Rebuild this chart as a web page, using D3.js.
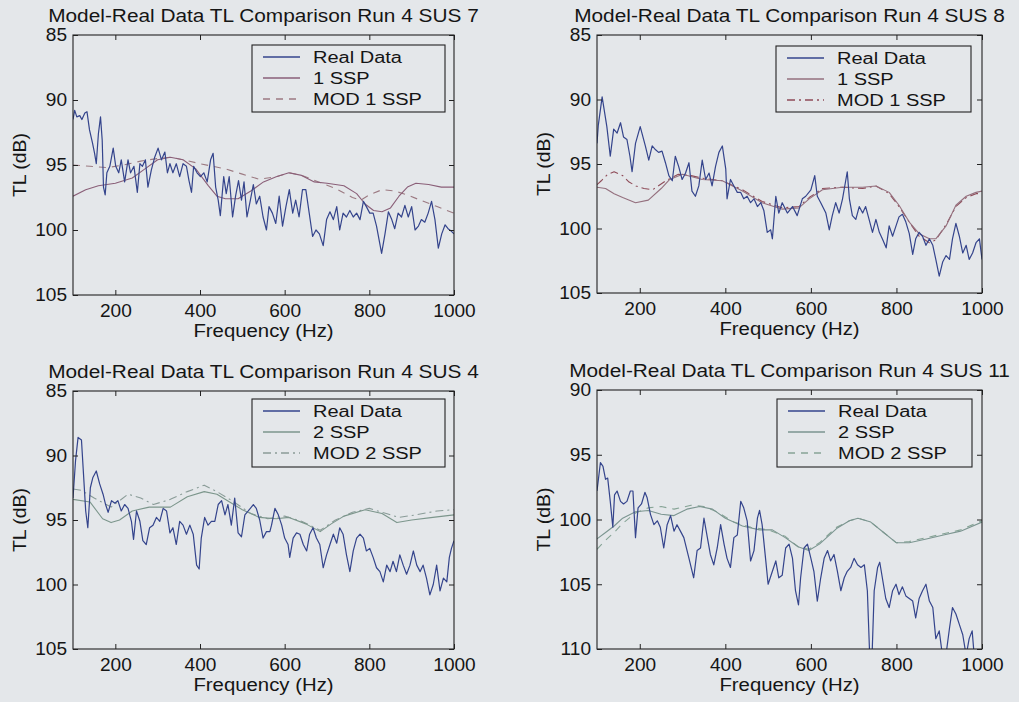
<!DOCTYPE html>
<html>
<head>
<meta charset="utf-8">
<script src="https://cdn.jsdelivr.net/npm/d3@7"></script>
<style>
  html, body { margin: 0; padding: 0; background: #e4e7ea; }
  svg { display: block; }
  text { font-family: "Liberation Sans", Arial, sans-serif; fill: #151515; }
</style>
</head>
<body>
<svg id="chart" width="1019" height="702"></svg>
<script>
// tick values
const freqTicks = [200, 400, 600, 800, 1000]
const tlTicksA = [85, 90, 95, 100, 105]
const tlTicksB = [90, 95, 100, 105, 110]

// Run 4 SUS 7  [frequency Hz, TL dB]
const sus7Real = [[100,91.5],[104,90.8],[109,91.3],[116,91.2],[121,91.5],[128,91.0],[133,90.9],[139,92.3],[146,93.3],[151,94.1],[155,94.9],[160,92.6],[165,91.3],[169,93.1],[172,96.7],[176,97.3],[180,95.6],[187,95.1],[195,93.7],[201,95.1],[208,95.6],[214,94.6],[222,96.3],[230,94.6],[236,95.6],[244,95.1],[252,97.1],[258,94.9],[264,95.1],[271,94.6],[277,96.7],[285,95.4],[293,94.4],[301,93.7],[309,94.6],[317,94.0],[323,95.6],[329,94.9],[336,95.6],[344,94.9],[352,95.9],[360,94.9],[368,95.1],[374,96.2],[380,97.1],[385,95.1],[393,95.6],[401,95.9],[409,95.6],[417,96.3],[425,94.6],[431,94.1],[437,96.7],[443,97.7],[448,98.9],[456,95.9],[462,97.2],[469,95.9],[477,99.0],[484,97.4],[491,96.2],[498,97.7],[504,96.3],[511,99.0],[519,97.7],[526,96.5],[533,98.0],[541,97.4],[549,99.0],[557,100.0],[563,98.2],[571,98.7],[579,99.5],[587,97.4],[595,99.7],[603,98.2],[611,96.9],[619,98.7],[626,97.7],[634,99.0],[642,96.9],[650,96.9],[658,98.7],[666,100.5],[674,100.0],[682,100.3],[691,101.2],[699,99.2],[707,98.6],[715,99.2],[723,98.2],[730,100.0],[738,98.7],[746,99.0],[754,98.5],[762,99.0],[770,98.7],[778,99.2],[786,97.8],[793,98.2],[801,98.7],[809,98.7],[817,99.7],[829,101.8],[837,100.3],[845,98.6],[853,99.2],[860,99.9],[868,98.7],[876,99.0],[884,98.1],[892,99.0],[900,98.2],[908,100.0],[916,99.7],[923,99.2],[931,99.4],[939,98.7],[947,97.8],[955,99.2],[963,101.4],[971,100.3],[979,99.6],[986,99.9],[994,100.1],[1000,100.3]]
const sus7Ssp = [[100,97.4],[130,96.9],[160,96.6],[200,96.4],[240,96.0],[270,95.3],[300,94.6],[330,94.4],[360,94.6],[390,95.3],[420,96.6],[440,97.4],[460,97.6],[490,97.6],[520,97.0],[550,96.3],[580,95.9],[610,95.6],[640,95.8],[670,96.3],[700,96.4],[740,96.6],[770,97.2],[790,98.0],[810,98.5],[830,98.6],[850,98.3],[870,97.4],[890,96.7],[910,96.4],[940,96.5],[970,96.7],[1000,96.7]]
const sus7Mod = [[100,95.0],[140,95.1],[180,95.2],[220,95.0],[260,94.7],[300,94.5],[330,94.4],[360,94.6],[400,94.9],[430,95.1],[460,95.3],[500,95.7],[540,96.1],[580,95.9],[610,95.6],[640,95.8],[680,96.3],[720,96.8],[760,97.5],[780,97.7],[800,97.3],[830,96.9],[860,97.0],[890,97.3],[920,97.7],[960,98.2],[1000,98.7]]

// Run 4 SUS 8
const sus8Real = [[100,93.4],[103,92.0],[112,89.8],[123,92.1],[131,94.4],[139,92.3],[147,92.6],[155,91.8],[162,92.9],[170,93.1],[177,94.4],[182,95.6],[190,93.4],[201,92.1],[213,93.6],[221,94.7],[229,93.6],[237,93.9],[244,94.1],[252,94.0],[260,94.9],[268,95.9],[276,96.3],[283,94.4],[291,95.2],[299,96.2],[307,95.7],[315,94.9],[322,97.1],[330,97.5],[338,96.7],[346,94.7],[354,96.2],[362,95.7],[369,96.7],[377,95.2],[385,94.1],[393,93.6],[401,95.4],[404,97.7],[412,96.2],[420,96.7],[428,97.2],[436,97.2],[443,97.7],[451,97.5],[459,98.0],[467,97.7],[475,98.3],[483,98.0],[490,98.6],[498,100.3],[506,100.1],[510,100.8],[518,97.5],[525,98.8],[533,98.0],[545,98.8],[557,98.3],[568,99.0],[580,97.7],[588,97.5],[600,97.0],[609,95.9],[615,97.5],[623,98.0],[635,98.8],[643,100.1],[650,99.0],[658,98.0],[666,98.8],[674,97.7],[685,95.6],[690,97.7],[697,99.0],[705,99.3],[713,98.3],[721,98.8],[728,98.3],[736,99.3],[744,100.3],[752,99.3],[760,100.3],[767,100.8],[776,101.5],[783,99.8],[791,100.6],[799,99.8],[806,99.1],[814,98.9],[822,99.5],[830,100.4],[838,102.0],[845,100.8],[853,100.3],[861,100.6],[869,101.3],[877,100.8],[885,101.3],[892,102.4],[900,103.7],[908,102.6],[916,102.1],[924,102.4],[931,100.8],[939,99.6],[947,100.6],[955,101.9],[963,101.3],[970,102.4],[978,101.9],[986,101.1],[994,100.8],[1000,102.4]]
const sus8Ssp = [[100,96.8],[120,96.9],[140,97.3],[160,97.6],[190,98.0],[220,97.8],[250,96.9],[270,96.2],[300,95.8],[346,96.2],[393,96.3],[440,97.1],[486,98.0],[533,98.5],[572,98.4],[596,97.7],[627,97.0],[674,96.8],[721,96.8],[752,96.7],[783,97.2],[806,98.2],[830,99.5],[853,100.4],[877,100.8],[892,100.8],[916,99.8],[939,98.2],[963,97.5],[986,97.2],[1000,97.1]]
const sus8Mod = [[100,96.6],[110,96.3],[125,95.8],[140,95.6],[160,95.9],[175,96.4],[191,96.7],[210,96.9],[230,97.0],[261,96.3],[290,95.8],[320,95.9],[346,96.1],[393,96.3],[440,97.0],[486,97.9],[533,98.4],[572,98.3],[596,97.6],[627,96.9],[674,96.8],[721,96.9],[752,96.7],[783,97.3],[806,98.3],[830,99.5],[853,100.6],[877,101.1],[892,100.9],[916,99.7],[939,98.3],[963,97.6],[986,97.3],[1000,97.3]]

// Run 4 SUS 4
const sus4Real = [[100,93.3],[106,90.4],[112,88.6],[120,88.8],[124,91.0],[130,94.3],[135,95.6],[141,92.5],[147,91.7],[155,91.2],[163,92.2],[171,93.0],[177,93.8],[183,94.4],[191,93.5],[199,93.7],[206,93.5],[214,94.3],[222,93.8],[230,94.1],[238,95.1],[243,96.5],[250,94.3],[258,95.1],[265,96.6],[273,96.9],[281,95.6],[289,95.4],[297,94.8],[305,95.1],[313,94.1],[321,94.3],[329,96.0],[336,95.6],[344,96.9],[352,95.1],[360,95.4],[368,96.1],[376,95.4],[384,96.1],[392,98.5],[398,98.8],[403,96.4],[411,94.8],[419,95.4],[427,95.1],[435,95.1],[443,93.8],[451,93.5],[459,94.6],[466,93.8],[474,95.4],[482,93.3],[490,96.0],[498,96.3],[506,94.6],[514,94.3],[526,93.8],[533,94.1],[541,95.0],[549,96.4],[557,95.9],[565,95.9],[569,95.4],[577,94.1],[585,94.6],[593,95.4],[600,96.4],[608,96.9],[612,97.9],[620,96.4],[628,96.0],[636,96.1],[644,96.9],[652,97.4],[659,96.1],[667,95.6],[675,96.4],[683,96.9],[691,98.7],[699,97.7],[707,96.9],[715,96.1],[723,96.8],[730,95.6],[738,96.1],[746,97.7],[754,99.0],[762,97.4],[770,96.4],[778,96.1],[786,96.4],[793,97.4],[801,97.2],[809,97.9],[817,98.7],[825,99.0],[833,99.8],[841,98.5],[849,99.0],[856,98.2],[864,99.0],[872,97.7],[880,98.5],[888,99.2],[896,98.5],[904,97.4],[912,98.5],[920,99.0],[927,98.5],[935,99.5],[943,100.8],[951,100.0],[959,98.5],[967,100.5],[975,99.5],[983,99.8],[989,97.9],[994,97.2],[1000,96.6]]
const sus4Ssp = [[100,93.4],[140,93.6],[170,94.9],[190,95.2],[210,95.0],[240,94.3],[280,94.0],[330,94.0],[370,93.2],[410,92.8],[440,93.0],[470,93.6],[500,94.2],[540,94.8],[580,94.9],[610,94.8],[650,95.3],[684,95.9],[710,95.3],[740,94.7],[790,94.2],[830,94.5],[865,95.2],[900,95.0],[950,94.8],[1000,94.6]]
const sus4Mod = [[100,92.6],[120,92.7],[150,93.3],[190,94.0],[230,93.0],[260,93.3],[290,93.8],[330,93.4],[370,92.8],[410,92.3],[440,92.8],[480,93.6],[520,94.5],[560,94.9],[600,94.7],[640,95.1],[684,95.8],[720,95.0],[760,94.4],[800,94.1],[840,94.5],[870,94.8],[910,94.6],[960,94.3],[1000,94.2]]

// Run 4 SUS 11
const sus11Real = [[100,97.8],[108,95.6],[114,95.9],[120,96.9],[125,96.8],[131,98.6],[137,100.6],[141,98.1],[147,97.8],[155,98.6],[162,98.8],[170,98.6],[178,97.8],[184,97.8],[190,101.4],[196,99.1],[204,98.8],[212,97.9],[217,98.3],[225,99.6],[233,100.4],[241,100.1],[248,100.6],[256,102.2],[264,100.4],[272,99.7],[280,100.9],[287,100.4],[295,100.9],[303,101.4],[315,103.0],[326,104.5],[334,102.4],[342,102.2],[350,99.9],[358,101.4],[365,102.7],[373,103.5],[381,102.2],[389,100.4],[397,101.9],[404,103.0],[412,103.7],[420,101.4],[428,101.2],[436,98.6],[443,99.1],[451,100.1],[459,103.2],[467,102.4],[475,99.9],[480,99.3],[486,100.4],[494,103.0],[500,105.0],[510,104.0],[518,103.2],[525,104.5],[533,104.3],[541,102.2],[549,101.9],[557,103.0],[564,105.5],[571,106.6],[576,104.5],[584,102.2],[592,101.9],[600,103.0],[607,104.0],[615,106.3],[623,104.5],[631,103.0],[639,102.4],[646,103.2],[654,102.7],[662,104.0],[670,105.5],[678,104.5],[685,104.0],[693,103.7],[701,103.0],[709,103.5],[717,103.7],[725,103.5],[732,105.5],[738,111.0],[742,111.5],[748,105.5],[756,103.7],[761,103.3],[767,104.5],[775,106.1],[783,106.8],[791,105.5],[799,105.0],[806,105.8],[814,105.2],[822,105.9],[830,106.1],[838,106.3],[845,107.6],[853,106.1],[861,105.5],[869,105.0],[877,106.3],[885,106.8],[892,109.2],[900,108.6],[908,110.6],[916,110.4],[924,108.4],[931,106.8],[939,107.3],[947,108.1],[955,108.9],[963,110.5],[970,109.2],[977,108.6],[982,110.6],[990,110.8],[1000,110.5]]
const sus11Ssp = [[100,101.5],[120,101.0],[140,100.5],[160,99.9],[190,99.4],[220,99.3],[250,99.6],[280,99.7],[310,99.2],[340,99.0],[370,99.2],[400,99.9],[440,100.5],[480,100.8],[510,100.8],[540,101.4],[570,102.1],[595,102.4],[620,101.9],[660,100.7],[690,100.1],[710,99.9],[740,100.2],[770,101.0],[800,101.8],[830,101.8],[870,101.5],[910,101.2],[950,100.9],[1000,100.2]]
const sus11Mod = [[100,102.3],[120,101.6],[140,101.0],[160,100.3],[190,99.5],[220,99.1],[250,99.0],[280,99.2],[320,98.9],[350,99.0],[380,99.4],[420,100.2],[460,100.6],[500,100.8],[540,101.3],[570,102.1],[595,102.3],[620,101.8],[660,100.6],[690,100.1],[710,99.9],[740,100.2],[770,101.0],[800,101.8],[830,101.7],[870,101.4],[910,101.1],[950,100.8],[1000,100.1]]

const BG = '#e4e7ea'
const REAL = '#34448c'

const panels = [
  { title: 'Model-Real Data TL Comparison Run 4 SUS 7', left: 73, top: 35, right: 454, bottom: 295, yTicks: tlTicksA,
    legend: { x: 252, y: 45, w: 193, h: 67 },
    series: [
      { name: 'Real Data', data: sus7Real, color: REAL, width: 1.2, dash: null },
      { name: '1 SSP', data: sus7Ssp, color: '#8a5f78', width: 1.1, dash: null },
      { name: 'MOD 1 SSP', data: sus7Mod, color: '#9c7a82', width: 1.1, dash: '7,6' }
    ] },
  { title: 'Model-Real Data TL Comparison Run 4 SUS 8', left: 597, top: 35, right: 982, bottom: 293, yTicks: tlTicksA,
    legend: { x: 776, y: 46, w: 195, h: 66 },
    series: [
      { name: 'Real Data', data: sus8Real, color: REAL, width: 1.2, dash: null },
      { name: '1 SSP', data: sus8Ssp, color: '#94707e', width: 1.1, dash: null },
      { name: 'MOD 1 SSP', data: sus8Mod, color: '#8e4b58', width: 1.1, dash: '8,4,2,4' }
    ] },
  { title: 'Model-Real Data TL Comparison Run 4 SUS 4', left: 73, top: 391, right: 454, bottom: 649, yTicks: tlTicksA,
    legend: { x: 252, y: 399, w: 193, h: 68 },
    series: [
      { name: 'Real Data', data: sus4Real, color: REAL, width: 1.2, dash: null },
      { name: '2 SSP', data: sus4Ssp, color: '#7c968c', width: 1.1, dash: null },
      { name: 'MOD 2 SSP', data: sus4Mod, color: '#8a9c98', width: 1.1, dash: '8,4,2,4' }
    ] },
  { title: 'Model-Real Data TL Comparison Run 4 SUS 11', left: 597, top: 390, right: 982, bottom: 649, yTicks: tlTicksB,
    legend: { x: 777, y: 399, w: 195, h: 68 },
    series: [
      { name: 'Real Data', data: sus11Real, color: REAL, width: 1.2, dash: null },
      { name: '2 SSP', data: sus11Ssp, color: '#7b9590', width: 1.1, dash: null },
      { name: 'MOD 2 SSP', data: sus11Mod, color: '#86a496', width: 1.1, dash: '7,6' }
    ] }
]

const svg = d3.select('#chart')
svg.append('rect').attr('width', 1019).attr('height', 702).attr('fill', BG)

// the scanned lettering is wider than Arial, so stretch it a bit
function stretch (sel, k) {
  sel.each(function () {
    const w = this.getComputedTextLength()
    this.setAttribute('textLength', w * k)
    this.setAttribute('lengthAdjust', 'spacingAndGlyphs')
  })
}

function drawPanel (p, i) {
  const yDomain = d3.extent(p.yTicks)
  const x = d3.scaleLinear().domain([100, 1000]).range([p.left, p.right])
  const y = d3.scaleLinear().domain(yDomain).range([p.top, p.bottom])
  const g = svg.append('g')
  const cx = (p.left + p.right) / 2
  const cy = (p.top + p.bottom) / 2

  const clipId = 'clip' + i
  svg.append('clipPath').attr('id', clipId)
    .append('rect')
    .attr('x', p.left).attr('y', p.top)
    .attr('width', p.right - p.left).attr('height', p.bottom - p.top)

  const line = d3.line().x(d => x(d[0])).y(d => y(d[1]))
  // models first, real data on top
  p.series.slice().reverse().forEach(s => {
    g.append('path')
      .datum(s.data)
      .attr('d', line)
      .attr('fill', 'none')
      .attr('stroke', s.color)
      .attr('stroke-width', s.width)
      .attr('stroke-linejoin', 'round')
      .attr('stroke-dasharray', s.dash)
      .attr('clip-path', `url(#${clipId})`)
  })

  // axes, MATLAB style: inward ticks on all four sides
  const fmt = d3.format('d')
  const bottomAx = g.append('g').attr('transform', `translate(0,${p.bottom})`)
    .call(d3.axisBottom(x).tickValues(freqTicks).tickFormat(fmt).tickSize(-5).tickSizeOuter(0).tickPadding(9))
  const leftAx = g.append('g').attr('transform', `translate(${p.left},0)`)
    .call(d3.axisLeft(y).tickValues(p.yTicks).tickFormat(fmt).tickSize(-5).tickSizeOuter(0).tickPadding(6))
  g.append('g').attr('transform', `translate(0,${p.top})`)
    .call(d3.axisTop(x).tickValues(freqTicks).tickSize(-5).tickSizeOuter(0).tickFormat(''))
  g.append('g').attr('transform', `translate(${p.right},0)`)
    .call(d3.axisRight(y).tickValues(p.yTicks).tickSize(-5).tickSizeOuter(0).tickFormat(''))
  g.selectAll('.domain').remove()
  g.selectAll('.tick line').attr('stroke', '#222')
  ;[bottomAx, leftAx].forEach(ax => {
    ax.selectAll('text')
      .style('font-family', '"Liberation Sans", Arial, sans-serif')
      .attr('font-size', 18)
      .attr('fill', '#151515')
    stretch(ax.selectAll('text'), 1.06)
  })

  g.append('rect')
    .attr('x', p.left).attr('y', p.top)
    .attr('width', p.right - p.left).attr('height', p.bottom - p.top)
    .attr('fill', 'none').attr('stroke', '#222').attr('stroke-width', 1.1)

  // titles
  const t = g.append('text').attr('x', cx).attr('y', p.top - 13)
    .attr('text-anchor', 'middle').attr('font-size', 17.5).text(p.title)
  stretch(t, 1.19)
  const xl = g.append('text').attr('x', cx).attr('y', p.bottom + 42)
    .attr('text-anchor', 'middle').attr('font-size', 18).text('Frequency (Hz)')
  stretch(xl, 1.13)
  const yl = g.append('text')
    .attr('transform', `translate(${p.left - 47},${cy}) rotate(-90)`)
    .attr('text-anchor', 'middle').attr('font-size', 18).text('TL (dB)')
  stretch(yl, 1.08)

  // legend
  const lg = p.legend
  const leg = g.append('g').attr('transform', `translate(${lg.x},${lg.y})`)
  leg.append('rect').attr('width', lg.w).attr('height', lg.h)
    .attr('fill', BG).attr('stroke', '#222').attr('stroke-width', 1.1)
  p.series.forEach((s, j) => {
    const ry = 12 + j * 21
    leg.append('line')
      .attr('x1', 11).attr('x2', 48).attr('y1', ry).attr('y2', ry)
      .attr('stroke', s.color).attr('stroke-width', s.width + 0.2)
      .attr('stroke-dasharray', s.dash)
    const lt = leg.append('text').attr('x', 61).attr('y', ry + 6)
      .attr('font-size', 16).text(s.name)
    stretch(lt, 1.25)
  })
}

panels.forEach(drawPanel)
</script>
</body>
</html>
